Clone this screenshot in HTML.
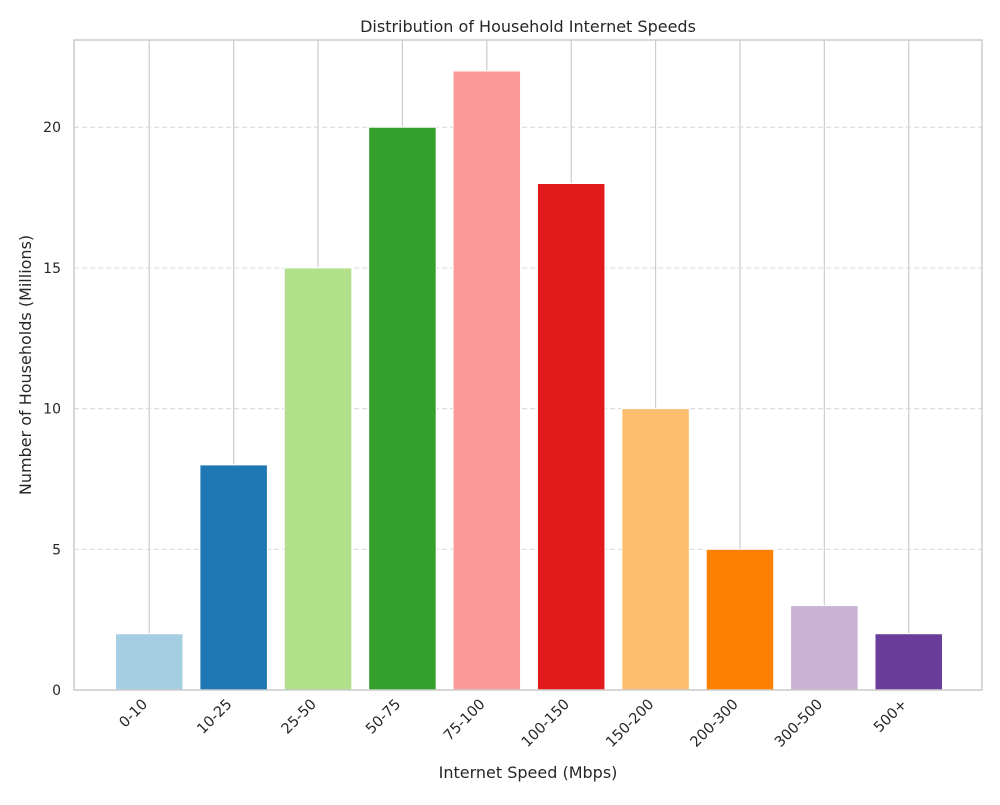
<!DOCTYPE html>
<html><head><meta charset="utf-8"><style>
body{margin:0;background:#fff;font-family:"Liberation Sans","DejaVu Sans",sans-serif;}
</style></head><body>
<svg id="chart" width="1000" height="800" xmlns="http://www.w3.org/2000/svg" font-family="'DejaVu Sans','Liberation Sans',sans-serif" fill="#262626"></svg>
<script>
const categories=["0-10","10-25","25-50","50-75","75-100","100-150","150-200","200-300","300-500","500+"];
const values=[2,8,15,20,22,18,10,5,3,2];
const colors=["#a6cee3","#1f78b4","#b2df8a","#33a02c","#fb9a99","#e31a1c","#fdbf6f","#ff7f00","#cab2d6","#6a3d9a"];
const yTicks=[0,5,10,15,20];

const L=74,R=982,T=40,B=690;
const n=categories.length;
const xmin=-0.4-0.049*(n-1+0.8), xmax=(n-1)+0.4+0.049*(n-1+0.8);
const xs=v=>L+1+(v-xmin)/(xmax-xmin)*(R-L);
const ymaxv=Math.max(...values)*1.05;
const ys=v=>B-v/ymaxv*(B-T);
const svg=document.getElementById('chart');
const NS="http://www.w3.org/2000/svg";
function mk(tag,attrs,parent){const e=document.createElementNS(NS,tag);for(const k in attrs)e.setAttribute(k,attrs[k]);(parent||svg).appendChild(e);return e;}

categories.forEach((c,i)=>{const l=mk('line',{x1:xs(i),x2:xs(i),y1:T,y2:B,stroke:'#cccccc','stroke-width':1.2});

});
yTicks.forEach(t=>{const l=mk('line',{x1:L,x2:R,y1:ys(t),y2:ys(t),stroke:'#dddddd','stroke-width':1.2,'stroke-dasharray':'5,3'});


const tx=mk('text',{x:L-13,y:ys(t)+5,'text-anchor':'end','font-size':14});
tx.textContent=t;

});
categories.forEach((c,i)=>{const x0=xs(i-0.4),x1=xs(i+0.4);
const r=mk('rect',{x:x0,y:ys(values[i]),width:x1-x0,height:ys(0)-ys(values[i]),fill:colors[i],stroke:'#fff','stroke-width':1});


const tx=mk('text',{x:0,y:0,'text-anchor':'end','font-size':14.5,transform:`translate(${xs(i)-1},${B+15}) rotate(-45)`});
tx.textContent=c;

});
const f=mk('rect',{x:L,y:T,width:R-L,height:B-T,fill:'none',stroke:'#cccccc','stroke-width':1.5});


const t1=mk('text',{x:(L+R)/2,y:32,'text-anchor':'middle','font-size':16});t1.textContent="Distribution of Household Internet Speeds";


const t2=mk('text',{x:(L+R)/2,y:778,'text-anchor':'middle','font-size':16});t2.textContent="Internet Speed (Mbps)";


const t3=mk('text',{x:0,y:0,'text-anchor':'middle','font-size':16,transform:`translate(31,${(T+B)/2}) rotate(-90)`});t3.textContent="Number of Households (Millions)";


</script>
</body></html>
